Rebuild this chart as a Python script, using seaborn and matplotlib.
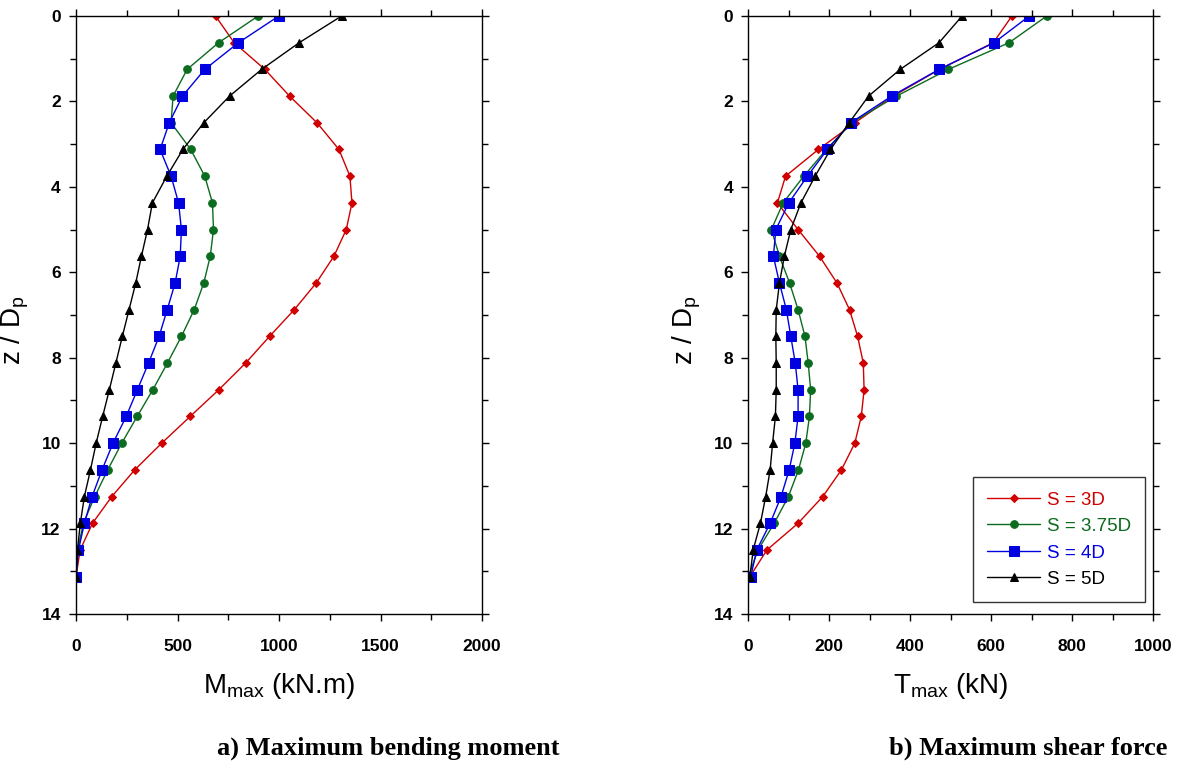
import numpy as np
import pandas as pd
import seaborn as sns
import matplotlib.pyplot as plt
from matplotlib.ticker import MultipleLocator

# depth along the pile, z / Dp
depth = [0, 0.625, 1.25, 1.875, 2.5, 3.125, 3.75, 4.375, 5, 5.625, 6.25,
         6.875, 7.5, 8.125, 8.75, 9.375, 10, 10.625, 11.25, 11.875, 12.5, 13.125]

cases = ['S = 3D', 'S = 3.75D', 'S = 4D', 'S = 5D']

# maximum bending moment (kN.m)
moment_3d = [687, 779, 930, 1052, 1187, 1295, 1349, 1359, 1331, 1270, 1183,
             1075, 953, 835, 703, 562, 422, 289, 176, 81, 20, 0]
moment_375d = [897, 702, 547, 478, 468, 565, 634, 672, 677, 661, 629,
               582, 519, 450, 378, 301, 225, 156, 92, 36, 8, 0]
moment_4d = [999, 800, 634, 524, 459, 414, 468, 505, 519, 513, 488,
             449, 409, 357, 302, 247, 182, 128, 79, 41, 12, 0]
moment_5d = [1308, 1099, 914, 756, 629, 526, 447, 376, 352, 322, 294,
             261, 228, 196, 164, 131, 99, 71, 41, 21, 7, 0]

# maximum shear force (kN)
shear_3d = [651, 605, 472, 358, 263, 173, 92, 72, 123, 176, 219,
            250, 270, 284, 286, 279, 263, 230, 184, 123, 46, 4]
shear_375d = [737, 644, 494, 366, 255, 193, 137, 86, 57, 77, 102,
              123, 140, 148, 154, 151, 142, 124, 99, 64, 24, 0]
shear_4d = [694, 607, 471, 354, 253, 195, 146, 100, 68, 62, 77,
            94, 105, 116, 123, 123, 115, 101, 81, 54, 21, 6]
shear_5d = [528, 471, 375, 297, 249, 203, 165, 130, 105, 89, 77,
            69, 68, 69, 69, 67, 60, 54, 43, 30, 12, 4]

colors = ['#d00000', '#0b6b1e', '#0000e0', '#000000']
markers = ['D', 'o', 's', '^']
msizes = [3.6, 5.5, 6.5, 5.5]

sns.set_style('ticks')
plt.rcParams['font.family'] = ['Liberation Sans', 'DejaVu Sans']
plt.rcParams['mathtext.fontset'] = 'custom'
plt.rcParams['mathtext.rm'] = 'Liberation Sans'
for key in ['text.color', 'axes.labelcolor', 'xtick.color', 'ytick.color',
            'axes.edgecolor']:
    plt.rcParams[key] = 'black'

fig = plt.figure(figsize=(11.81, 7.66), dpi=100)
ax1 = fig.add_axes([0.0644, 0.1984, 0.3438, 0.7807])
ax2 = fig.add_axes([0.6336, 0.1984, 0.3429, 0.7807])


def draw(ax, series, xmax, major, minor, xlabel):
    for name, vals, c, m, ms in zip(cases, series, colors, markers, msizes):
        df = pd.DataFrame({'x': vals, 'z': depth})
        sns.lineplot(data=df, x='x', y='z', ax=ax, sort=False, estimator=None,
                     color=c, marker=m, markersize=ms, markeredgecolor=c,
                     linewidth=1, label=name)
    ax.set_xlim(0, xmax)
    ax.set_ylim(14, 0)
    ax.xaxis.set_major_locator(MultipleLocator(major))
    ax.xaxis.set_minor_locator(MultipleLocator(minor))
    ax.yaxis.set_major_locator(MultipleLocator(2))
    ax.yaxis.set_minor_locator(MultipleLocator(1))
    ax.tick_params(which='both', direction='out', top=True, right=True,
                   labeltop=False, labelright=False, width=1, color='black')
    ax.tick_params(which='major', length=5)
    ax.tick_params(which='minor', length=4)
    ax.tick_params(axis='x', which='major', pad=13)
    ax.tick_params(axis='y', which='major', pad=6)
    for lab in ax.get_xticklabels() + ax.get_yticklabels():
        lab.set_fontweight('bold')
        lab.set_fontsize(12.5)
    for sp in ax.spines.values():
        sp.set_visible(True)
        sp.set_linewidth(1)
        sp.set_color('black')
    ax.set_xlabel(xlabel, fontsize=20, labelpad=12)
    ax.set_ylabel(r'z / D$_{\mathregular{p}}$', fontsize=20)
    ax.yaxis.set_label_coords(-0.112, 0.475)


draw(ax1, [moment_3d, moment_375d, moment_4d, moment_5d], 2000, 500, 250,
     r'M$_{\mathregular{max}}$ (kN.m)')
draw(ax2, [shear_3d, shear_375d, shear_4d, shear_5d], 1000, 200, 100,
     r'T$_{\mathregular{max}}$ (kN)')

ax1.get_legend().remove()
leg = ax2.legend(loc='lower right', bbox_to_anchor=(0.979, 0.02), fontsize=13.5,
                 labelcolor='linecolor', frameon=True, fancybox=False,
                 edgecolor='black', handlelength=2.8, handletextpad=0.35,
                 borderpad=0.75, labelspacing=0.5, borderaxespad=0)
leg.get_frame().set_linewidth(1)

fig.text(388 / 1181, 1 - 748 / 766, 'a) Maximum bending moment', ha='center',
         va='center', fontsize=19, fontweight='bold',
         family=['Liberation Serif', 'DejaVu Serif'])
fig.text(1028 / 1181, 1 - 748 / 766, 'b) Maximum shear force', ha='center',
         va='center', fontsize=19, fontweight='bold',
         family=['Liberation Serif', 'DejaVu Serif'])

fig.savefig('out.png', dpi=100)
